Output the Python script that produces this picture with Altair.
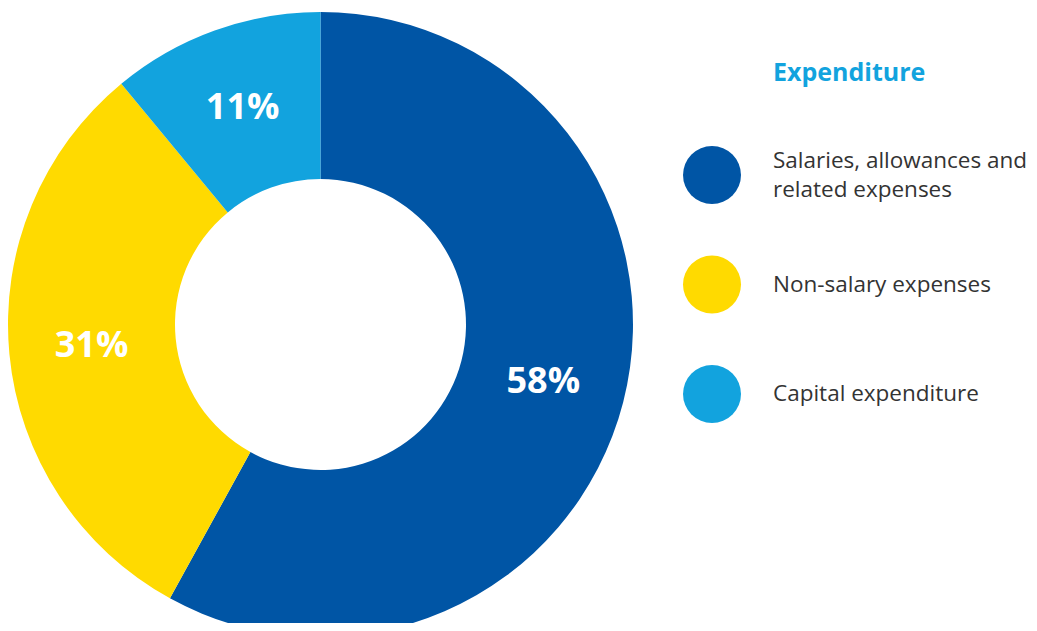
import altair as alt
import pandas as pd

categories = ["Salaries, allowances and\nrelated expenses", "Non-salary expenses", "Capital expenditure"]
shares = [58, 31, 11]
colors = ["#0055A5", "#FFDA00", "#12A3DE"]
order_idx = [0, 1, 2]

df = pd.DataFrame({"category": categories, "share": shares, "idx": order_idx})
df["label"] = df["share"].astype(str) + "%"

CX, CY = 312.5, 316.5

color_scale = alt.Scale(domain=categories, range=colors)

base = alt.Chart(df).encode(
    theta=alt.Theta("share:Q", stack=True),
    order=alt.Order("idx:Q", sort="ascending"),
)

arcs = base.mark_arc(innerRadius=145.5, outerRadius=312.5).encode(
    x=alt.value(CX),
    y=alt.value(CY),
    color=alt.Color("category:N", scale=color_scale, sort=categories, legend=None),
)

texts = base.mark_text(
    radius=230, font="Open Sans", fontSize=36, fontWeight="bold", color="white",
    align="center", baseline="middle",
).encode(
    x=alt.value(CX),
    y=alt.value(CY),
    text="label:N",
)

# custom legend: rows placed by a point scale over the categories
leg_y = alt.Y(
    "category:N", sort=categories, axis=None,
    scale=alt.Scale(domain=categories, range=[167, 386], padding=0),
)
leg_base = alt.Chart(df).encode(y=leg_y)

leg_dots = leg_base.mark_circle(size=3364, opacity=1).encode(
    x=alt.value(704),
    color=alt.Color("category:N", scale=color_scale, sort=categories, legend=None),
)

text_style = dict(
    align="left", baseline="middle", font="Open Sans", fontSize=22.5,
    color="#333333", lineBreak="\n", lineHeight=29,
)
nl_calc = "length(split(datum.category, '\\n'))"

leg_text_single = leg_base.mark_text(**text_style).transform_calculate(
    nlines=nl_calc
).transform_filter("datum.nlines == 1").encode(
    x=alt.value(765),
    text="category:N",
)

leg_text_multi = leg_base.mark_text(dy=-14.5, **text_style).transform_calculate(
    nlines=nl_calc
).transform_filter("datum.nlines > 1").encode(
    x=alt.value(765),
    text="category:N",
)

chart = alt.layer(arcs, texts, leg_dots, leg_text_single, leg_text_multi).properties(
    width=1021,
    height=615,
    autosize=alt.AutoSizeParams(type="none"),
    padding=0,
    title=alt.TitleParams(
        "Expenditure", anchor="start", orient="top", frame="group",
        dx=765, dy=82, font="Open Sans", fontSize=25, fontWeight="bold",
        color="#12A3DE",
    ),
).configure_view(stroke=None)

chart.save("out.html", embed_options={"renderer": "svg", "actions": False})
